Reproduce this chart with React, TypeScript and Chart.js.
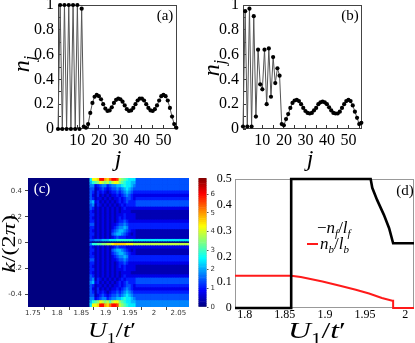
import React, { useEffect, useRef } from "react";
import { Chart, registerables } from "chart.js";

Chart.register(...registerables);

const W = 415;
const H = 343;
const SERIF = '"Liberation Serif", "Times New Roman", serif';
const SANS = '"DejaVu Sans", sans-serif';

// ---------------- (a), (b): site occupations n_j ----------------
const SITES = [
  1, 2, 3, 4, 5, 6, 7, 8, 9, 10, 11, 12, 13, 14, 15, 16, 17, 18, 19, 20,
  21, 22, 23, 24, 25, 26, 27, 28, 29, 30, 31, 32, 33, 34, 35, 36, 37, 38, 39, 40,
  41, 42, 43, 44, 45, 46, 47, 48, 49, 50, 51, 52, 53, 54, 55, 56,
];
const NJ_A = [
  0.0, 1.0, 0.0, 1.0, 0.0, 1.0, 0.0, 1.0, 0.0, 1.0, 0.0, 0.97, 0.02, 0.01,
  0.04, 0.13, 0.21, 0.26, 0.275, 0.265, 0.24, 0.2, 0.165, 0.145, 0.15, 0.175,
  0.21, 0.235, 0.245, 0.24, 0.22, 0.19, 0.16, 0.145, 0.15, 0.17, 0.2, 0.23,
  0.245, 0.245, 0.23, 0.2, 0.17, 0.15, 0.145, 0.16, 0.19, 0.23, 0.265, 0.275,
  0.265, 0.23, 0.17, 0.1, 0.04, 0.01,
];
const NJ_B = [
  0.02, 0.95, 0.02, 0.97, 0.02, 0.91, 0.1, 0.64, 0.36, 0.32, 0.64, 0.2, 0.65,
  0.26, 0.58, 0.37, 0.49, 0.43, 0.04, 0.03, 0.08, 0.12, 0.17, 0.21, 0.23,
  0.235, 0.225, 0.2, 0.17, 0.145, 0.13, 0.125, 0.13, 0.15, 0.17, 0.2, 0.215,
  0.22, 0.215, 0.2, 0.175, 0.15, 0.13, 0.125, 0.125, 0.14, 0.17, 0.2, 0.225,
  0.235, 0.225, 0.19, 0.14, 0.09, 0.04, 0.05,
];
const J_TICKS = [5, 10, 15, 20, 25, 30, 35, 40, 45, 50, 55];
const J_LABELS = ["", "10", "", "20", "", "30", "", "40", "", "50", ""];
const NJ_TICKS = [0, 0.1, 0.2, 0.3, 0.4, 0.5, 0.6, 0.7, 0.8, 0.9, 1];
const NJ_LABELS = ["0", "", "0.2", "", "0.4", "", "0.6", "", "0.8", "", "1"];

// ---------------- (c): momentum distribution heat map ----------------
const HEAT_U = [
  1.87, 1.875, 1.88, 1.885, 1.89, 1.895, 1.9, 1.905, 1.91, 1.915, 1.92, 1.925,
  1.93, 1.935, 1.94, 1.945, 1.95, 1.955, 1.96, 1.965, 1.97, 1.975, 1.98, 1.985,
  1.99, 1.995, 2.0, 2.005, 2.01, 2.015, 2.02, 2.025, 2.03, 2.035, 2.04, 2.045,
  2.05, 2.055, 2.06, 2.065, 2.07,
];
const HEAT_K_EDGES = [
  0.5, 0.475, 0.45, 0.425, 0.4, 0.375, 0.35, 0.325, 0.3, 0.275, 0.25, 0.225,
  0.2, 0.175, 0.15, 0.125, 0.1, 0.075, 0.05, 0.025, 0.006, -0.006, -0.025,
  -0.05, -0.075, -0.1, -0.125, -0.15, -0.175, -0.2, -0.225, -0.25, -0.275,
  -0.3, -0.325, -0.35, -0.375, -0.4, -0.425, -0.45, -0.475, -0.5,
];
// one row per k band (top to bottom), one character per U column (level * 0.35)
const HEAT_ROWS = [
  "7 ccdhhedfhhgba98777 4444444444444444444444",
  "6 89acbab9bcca987766 4444444444444444444444",
  "5 523455345566787765 4444444444444444444444",
  "4 412343234454567654 4444444444444444444444",
  "4 313232123343456543 3333333333333333333333",
  "4 213121212232345432 2222222222222222222222",
  "4 312212121223234432 3333333333333333333333",
  "5 623121212123234333 4444444444444444444444",
  "4 513212121212323333 4444444444444444444444",
  "4 312121212121232222 2222222222222222222222",
  "3 212121212121222211 1111111111111111111111",
  "3 312121212122232222 1111111111111111111111",
  "3 212121212123232222 1111111111111111111111",
  "3 312121212123343222 2222222222222222222222",
  "4 412121212234454333 3333333333333333333333",
  "3 312121212345565333 3333333333333333333333",
  "3 212121213456654322 1111111111111111111111",
  "3 312121214566543212 1111111111111111111111",
  "3 212121212343332222 1111111111111111111111",
  "4 455566677788888887 7777777777777777777777",
  "1 000000000000000000 0000000000000000000000",
  "5 8899aabbcdddddcccb bbbbbbbbbbbbbbbbbbbbbb",
  "3 212121212343332222 2222222222222222222222",
  "3 312121214566543212 1111111111111111111111",
  "3 212121213456654322 1111111111111111111111",
  "3 312121212345565333 3333333333333333333333",
  "4 412121212234454333 3333333333333333333333",
  "3 312121212123343222 2222222222222222222222",
  "3 212121212123232222 1111111111111111111111",
  "3 312121212122232222 1111111111111111111111",
  "3 212121212121222211 1111111111111111111111",
  "4 312121212121232222 2222222222222222222222",
  "4 513212121212323333 4444444444444444444444",
  "5 623121212123234333 4444444444444444444444",
  "4 312212121223234432 3333333333333333333333",
  "4 213121212232345432 2222222222222222222222",
  "4 313232123343456543 3333333333333333333333",
  "4 412343234454567654 4444444444444444444444",
  "5 523455345566787765 4444444444444444444444",
  "6 89acbab9bcca987766 5555555555555555555555",
  "7 ccdhhedfhhgba98777 5555555555555555555555",
];
const HEAT_LEVELS = "0123456789abcdefghij";
const HEAT_STEP = 0.35;
const HEAT_MAX = 6.85;
const C_U_TICKS = [1.75, 1.8, 1.85, 1.9, 1.95, 2, 2.05];
const C_U_LABELS = ["1.75", "1.8", "1.85", "1.9", "1.95", "2", "2.05"];
const C_K_TICKS = [-0.4, -0.2, 0, 0.2, 0.4];
const C_K_LABELS = ["-0.4", "-0.2", "0", "0.2", "0.4"];
const CB_TICKS = [0, 1, 2, 3, 4, 5, 6];
const CB_LABELS = ["0", "1", "2", "3", "4", "5", "6"];

// ---------------- (d): n_f/l_f and n_b/l_b ----------------
const NF_U = [1.788, 1.858, 1.858, 1.957, 1.959, 1.965, 1.9735, 1.98, 1.985, 2.011];
const NF_V = [0, 0, 0.5, 0.5, 0.466, 0.419, 0.361, 0.309, 0.251, 0.251];
const NB_U = [1.788, 1.858, 1.87, 1.897, 1.92, 1.9385, 1.955, 1.971, 1.984, 1.985, 1.985, 2.011];
const NB_V = [0.125, 0.125, 0.12, 0.103, 0.085, 0.071, 0.056, 0.039, 0.028, 0.028, 0, 0];
const D_U_TICKS = [1.8, 1.85, 1.9, 1.95, 2];
const D_U_LABELS = ["1.8", "1.85", "1.9", "1.95", "2"];
const D_V_TICKS = [0, 0.1, 0.2, 0.3, 0.4, 0.5];
const D_V_LABELS = ["0", "0.1", "0.2", "0.3", "0.4", "0.5"];

// ---------------- helpers ----------------
type Area = { l: number; t: number; r: number; b: number };

function jet(v: number) {
  const t = Math.min(1, Math.max(0, v / HEAT_MAX));
  const c = (x: number) => Math.round(255 * Math.min(1, Math.max(0, 1.5 - Math.abs(x))));
  return `rgb(${c(4 * t - 3)},${c(4 * t - 2)},${c(4 * t - 1)})`;
}

function layoutPad(a: Area, leftAxis: number, bottomAxis: number, rightAxis = 0) {
  return {
    left: a.l - leftAxis,
    top: a.t,
    right: W - a.r - rightAxis,
    bottom: H - a.b - bottomAxis,
  };
}

function axis(o: {
  min: number;
  max: number;
  ticks: number[];
  labels: string[];
  size: number;
  horiz: boolean;
  font: any;
  color: string;
  tickLen: number;
  tickColor: string;
  pad: number;
  position?: string;
  showTicks?: boolean;
}) {
  return {
    type: "linear",
    position: o.position,
    min: o.min,
    max: o.max,
    offset: false,
    afterBuildTicks: (s: any) => {
      s.ticks = o.ticks.map((v) => ({ value: v }));
    },
    afterFit: (s: any) => {
      if (o.horiz) s.height = o.size;
      else s.width = o.size;
      s.paddingLeft = 0;
      s.paddingRight = 0;
      s.paddingTop = 0;
      s.paddingBottom = 0;
    },
    grid: {
      display: o.showTicks !== false,
      drawOnChartArea: false,
      drawTicks: o.showTicks !== false,
      tickLength: o.tickLen,
      color: o.tickColor,
      tickColor: o.tickColor,
      lineWidth: 1,
    },
    border: { display: false },
    ticks: {
      autoSkip: false,
      maxRotation: 0,
      minRotation: 0,
      padding: o.pad,
      color: o.color,
      font: o.font,
      callback: (v: number) => {
        const i = o.ticks.findIndex((t) => Math.abs(t - v) < 1e-9);
        return i >= 0 ? o.labels[i] : "";
      },
    },
  };
}

type Seg = { t: string; i?: boolean; s?: boolean };

function drawMath(
  ctx: CanvasRenderingContext2D,
  segs: Seg[],
  x: number,
  y: number,
  size: number,
  opt: { len?: number; rot?: boolean; align?: "center" | "left"; color?: string } = {}
) {
  ctx.save();
  ctx.fillStyle = opt.color || "#000";
  ctx.translate(x, y);
  if (opt.rot) ctx.rotate(-Math.PI / 2);
  const fontOf = (g: Seg) =>
    `${g.i ? "italic " : ""}${g.s ? Math.round(size * 0.66) : size}px ${SERIF}`;
  let total = 0;
  const widths = segs.map((g) => {
    ctx.font = fontOf(g);
    const w = ctx.measureText(g.t).width;
    total += w;
    return w;
  });
  const k = opt.len ? opt.len / total : 1;
  ctx.scale(k, 1);
  let cx = opt.align === "left" ? 0 : -total / 2;
  ctx.textBaseline = "alphabetic";
  ctx.textAlign = "left";
  segs.forEach((g, idx) => {
    ctx.font = fontOf(g);
    ctx.fillText(g.t, cx, size * 0.33 + (g.s ? size * 0.25 : 0));
    cx += widths[idx];
  });
  ctx.restore();
}

function decor(
  id: string,
  o: { bg?: string; frame?: string; after?: (ctx: CanvasRenderingContext2D) => void }
) {
  return {
    id,
    beforeDatasetsDraw(chart: any) {
      const { ctx, chartArea: a } = chart;
      ctx.save();
      if (o.bg) {
        ctx.fillStyle = o.bg;
        ctx.fillRect(a.left, a.top, a.right - a.left, a.bottom - a.top);
      }
      if (o.frame) {
        ctx.strokeStyle = o.frame;
        ctx.lineWidth = 1;
        ctx.strokeRect(a.left + 0.5, a.top + 0.5, a.right - a.left - 1, a.bottom - a.top - 1);
      }
      ctx.restore();
    },
    afterDraw(chart: any) {
      if (o.after) o.after(chart.ctx);
    },
  };
}

const base = {
  animation: false,
  responsive: false,
  devicePixelRatio: 1,
  events: [],
  plugins: { legend: { display: false }, tooltip: { enabled: false } },
};

const NJ_SEGS: Seg[] = [{ t: "n", i: true }, { t: "j", i: true, s: true }];
const U_SEGS: Seg[] = [
  { t: "U", i: true },
  { t: "1", s: true },
  { t: "/" },
  { t: "t", i: true },
  { t: "\u2032" },
];

function profileConfig(values: number[], area: Area, tag: string, nx: number, ny: number, jx: number, jy: number) {
  const yW = 40;
  const xH = 40;
  const tickFont = { family: SERIF, size: 16 };
  return {
    type: "line",
    data: {
      datasets: [
        {
          data: SITES.map((j, i) => ({ x: j, y: values[i] })),
          borderColor: "#555",
          borderWidth: 1,
          pointRadius: 2.1,
          pointBackgroundColor: "#000",
          pointBorderWidth: 0,
          tension: 0,
          clip: false,
        },
      ],
    },
    options: {
      ...base,
      layout: { padding: layoutPad(area, yW, xH) },
      scales: {
        x: axis({
          min: 1, max: 56.3, ticks: J_TICKS, labels: J_LABELS, size: xH, horiz: true,
          font: tickFont, color: "#000", tickLen: -4, tickColor: "#333", pad: 6.4,
        }),
        y: axis({
          min: 0, max: 1, ticks: NJ_TICKS, labels: NJ_LABELS, size: yW, horiz: false,
          font: tickFont, color: "#000", tickLen: -3, tickColor: "#333", pad: 7,
        }),
      },
    },
    plugins: [
      decor("dec" + tag, {
        frame: "#444",
        after: (ctx) => {
          drawMath(ctx, [{ t: "(" + tag + ")" }], area.r - 12, area.t + 10, 15);
          drawMath(ctx, NJ_SEGS, nx, ny, 24, { rot: true });
          drawMath(ctx, [{ t: "j", i: true }], jx, jy, 24);
        },
      }),
    ],
  };
}

export default function App() {
  const refA = useRef<HTMLCanvasElement>(null);
  const refB = useRef<HTMLCanvasElement>(null);
  const refC = useRef<HTMLCanvasElement>(null);
  const refCB = useRef<HTMLCanvasElement>(null);
  const refD = useRef<HTMLCanvasElement>(null);

  useEffect(() => {
    const areaA: Area = { l: 58, t: 5, r: 177, b: 129 };
    const areaB: Area = { l: 243, t: 5, r: 362, b: 129 };
    const areaC: Area = { l: 28, t: 178, r: 189, b: 307 };
    const areaCB: Area = { l: 198.5, t: 178, r: 206.5, b: 307 };
    const areaD: Area = { l: 235, t: 179, r: 414, b: 308 };

    const charts: Chart[] = [];

    charts.push(new Chart(refA.current!, profileConfig(NJ_A, areaA, "a", 21, 64, 118, 158) as any));
    charts.push(new Chart(refB.current!, profileConfig(NJ_B, areaB, "b", 211, 68, 310, 158) as any));

    // (c) heat map as floating bars
    const cells: any[] = [];
    HEAT_ROWS.forEach((rowRaw, r) => {
      const row = rowRaw.replace(/\s+/g, "");
      HEAT_U.forEach((u, c) => {
        const ch = row[c] ?? row[row.length - 1];
        cells.push({ x: u, y: [HEAT_K_EDGES[r + 1], HEAT_K_EDGES[r]], v: HEAT_LEVELS.indexOf(ch) * HEAT_STEP });
      });
    });
    const cFont = { family: SANS, size: 7 };
    charts.push(
      new Chart(refC.current!, {
        type: "bar",
        data: {
          datasets: [
            {
              data: cells,
              backgroundColor: (ctx: any) => jet(ctx.raw ? ctx.raw.v : 0),
              borderWidth: 0,
              barPercentage: 1,
              categoryPercentage: 1,
            },
          ],
        },
        options: {
          ...base,
          layout: { padding: layoutPad(areaC, 25, 20) },
          scales: {
            x: axis({
              min: 1.74, max: 2.072, ticks: C_U_TICKS, labels: C_U_LABELS, size: 20, horiz: true,
              font: cFont, color: "#333", tickLen: 3, tickColor: "#444", pad: -1,
            }),
            y: axis({
              min: -0.5, max: 0.5, ticks: C_K_TICKS, labels: C_K_LABELS, size: 25, horiz: false,
              font: cFont, color: "#333", tickLen: 3, tickColor: "#444", pad: 3,
            }),
          },
        } as any,
        plugins: [
          decor("decC", {
            bg: jet(0),
            after: (ctx) => {
              drawMath(ctx, [{ t: "(c)" }], 42, 188, 15, { color: "#fff" });
              drawMath(
                ctx,
                [{ t: "k", i: true }, { t: "/(2" }, { t: "\u03c0", i: true }, { t: ")" }],
                9, 244, 19, { rot: true, len: 58 }
              );
              drawMath(ctx, U_SEGS, 112, 330, 22, { len: 48 });
            },
          }),
        ],
      } as any)
    );

    // colour bar
    const NSEG = 70;
    const segSets = [];
    for (let i = 0; i < NSEG; i++) {
      segSets.push({
        data: [HEAT_MAX / NSEG],
        backgroundColor: jet(((i + 0.5) * HEAT_MAX) / NSEG),
        borderWidth: 0,
        barPercentage: 1,
        categoryPercentage: 1,
      });
    }
    charts.push(
      new Chart(refCB.current!, {
        type: "bar",
        data: { labels: ["cb"], datasets: segSets },
        options: {
          ...base,
          layout: { padding: layoutPad(areaCB, 0, 0, 15) },
          scales: {
            x: { display: false, stacked: true },
            y: {
              ...axis({
                min: 0, max: HEAT_MAX, ticks: CB_TICKS, labels: CB_LABELS, size: 15, horiz: false,
                font: cFont, color: "#333", tickLen: 2, tickColor: "#555", pad: 2, position: "right",
              }),
              stacked: true,
            },
          },
        } as any,
        plugins: [decor("decCB", { frame: "#999" })],
      } as any)
    );

    // (d)
    const dTick = { family: SERIF, size: 12 };
    charts.push(
      new Chart(refD.current!, {
        type: "line",
        data: {
          datasets: [
            {
              data: NF_U.map((u, i) => ({ x: u, y: NF_V[i] })),
              borderColor: "#000",
              borderWidth: 2.6,
              pointRadius: 0,
              tension: 0,
              clip: false,
            },
            {
              data: NB_U.map((u, i) => ({ x: u, y: NB_V[i] })),
              borderColor: "#ff1a1a",
              borderWidth: 2,
              pointRadius: 0,
              tension: 0,
              clip: false,
            },
          ],
        },
        options: {
          ...base,
          layout: { padding: layoutPad(areaD, 40, 20) },
          scales: {
            x: axis({
              min: 1.788, max: 2.011, ticks: D_U_TICKS, labels: D_U_LABELS, size: 20, horiz: true,
              font: dTick, color: "#000", tickLen: 0, tickColor: "#000", pad: 0, showTicks: false,
            }),
            y: axis({
              min: 0, max: 0.5, ticks: D_V_TICKS, labels: D_V_LABELS, size: 40, horiz: false,
              font: dTick, color: "#000", tickLen: 0, tickColor: "#000", pad: 3.3, showTicks: false,
            }),
          },
        } as any,
        plugins: [
          decor("decD", {
            frame: "#999",
            after: (ctx) => {
              drawMath(ctx, [{ t: "(d)" }], 405, 190, 15);
              drawMath(ctx, U_SEGS, 317, 330, 24, { len: 58 });
              drawMath(
                ctx,
                [{ t: "\u2212" }, { t: "n", i: true }, { t: "f", i: true, s: true }, { t: "/" }, { t: "l", i: true }, { t: "f", i: true, s: true }],
                317, 227, 17, { align: "left" }
              );
              ctx.save();
              ctx.strokeStyle = "#ff1a1a";
              ctx.lineWidth = 2;
              ctx.beginPath();
              ctx.moveTo(307, 244);
              ctx.lineTo(318, 244);
              ctx.stroke();
              ctx.restore();
              drawMath(
                ctx,
                [{ t: "n", i: true }, { t: "b", i: true, s: true }, { t: "/" }, { t: "l", i: true }, { t: "b", i: true, s: true }],
                320, 243, 17, { align: "left" }
              );
            },
          }),
        ],
      } as any)
    );

    return () => charts.forEach((c) => c.destroy());
  }, []);

  const cs: React.CSSProperties = { position: "absolute", left: 0, top: 0, width: W, height: H };
  return (
    <div style={{ position: "absolute", left: 0, top: 0, width: W, height: H, background: "#fff" }}>
      <canvas ref={refA} width={W} height={H} style={cs} />
      <canvas ref={refB} width={W} height={H} style={cs} />
      <canvas ref={refC} width={W} height={H} style={cs} />
      <canvas ref={refCB} width={W} height={H} style={cs} />
      <canvas ref={refD} width={W} height={H} style={cs} />
    </div>
  );
}
